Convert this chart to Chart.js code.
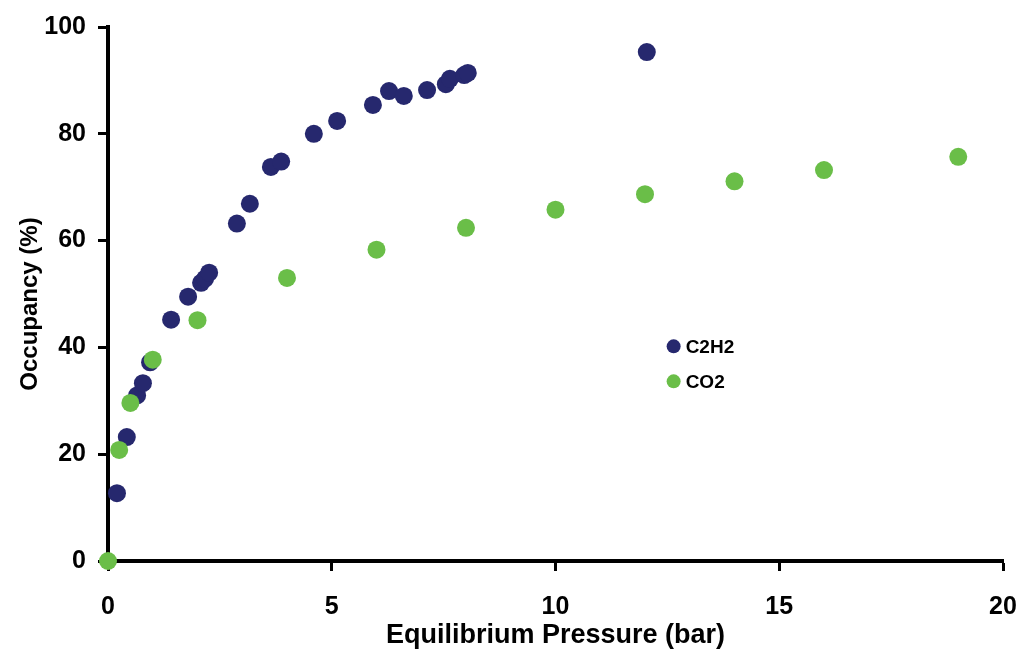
<!DOCTYPE html>
<html>
<head>
<meta charset="utf-8">
<script src="https://cdn.jsdelivr.net/npm/chart.js@4"></script>
<style>
  html, body { margin: 0; padding: 0; background: #fff; }
  #wrap { width: 1021px; height: 652px; position: relative; }
</style>
</head>
<body>
<div id="wrap"><canvas id="chart"></canvas></div>
<script>
// pressure (bar) / occupancy (%)
var c2h2Pressure = [0.2, 0.42, 0.65, 0.78, 0.94, 1.41, 1.79, 2.08, 2.17, 2.26, 2.88, 3.17, 3.64, 3.87, 4.6, 5.12, 5.92, 6.28, 6.61, 7.13, 7.55, 7.64, 7.96, 8.04, 12.04];
var c2h2Occupancy = [12.7, 23.2, 31.0, 33.3, 37.2, 45.2, 49.5, 52.1, 52.9, 54.0, 63.2, 66.9, 73.8, 74.8, 80.0, 82.4, 85.4, 88.0, 87.1, 88.2, 89.3, 90.3, 91.0, 91.4, 95.3];
var co2Pressure = [0, 0.25, 0.5, 1, 2, 4, 6, 8, 10, 12, 14, 16, 19];
var co2Occupancy = [0, 20.8, 29.6, 37.7, 45.1, 53.0, 58.3, 62.4, 65.8, 68.7, 71.1, 73.2, 75.7];
var xTicks = [0, 5, 10, 15, 20];
var yTicks = [0, 20, 40, 60, 80, 100];

var navy = 'rgb(38, 40, 110)';
var green = 'rgb(106, 190, 72)';

function toPoints(xs, ys) {
  var out = [];
  for (var i = 0; i < xs.length; i++) out.push({x: xs[i], y: ys[i]});
  return out;
}

// legend drawn inside the plot like the original
var innerLegend = {
  id: 'innerLegend',
  afterDraw: function(chart) {
    var ctx = chart.ctx;
    var x = chart.scales.x.getPixelForValue(12.64);
    var y0 = chart.scales.y.getPixelForValue(40.2);
    ctx.save();
    ctx.font = 'bold 19px "Liberation Sans", Arial, sans-serif';
    ctx.textBaseline = 'middle';
    chart.data.datasets.forEach(function(ds, i) {
      var y = y0 + i * 35;
      ctx.fillStyle = ds.backgroundColor;
      ctx.beginPath();
      ctx.arc(x, y, 7, 0, Math.PI * 2);
      ctx.fill();
      ctx.fillStyle = '#000';
      ctx.fillText(ds.label, x + 12, y + 1);
    });
    ctx.restore();
  }
};

var tickFont = {family: '"Liberation Sans", Arial, sans-serif', size: 25, weight: 'bold'};

new Chart(document.getElementById('chart'), {
  type: 'scatter',
  data: {
    datasets: [{
      label: 'C2H2',
      data: toPoints(c2h2Pressure, c2h2Occupancy),
      backgroundColor: navy,
      borderWidth: 0,
      pointRadius: 9,
      pointHoverRadius: 9,
      clip: false,
      order: 2
    }, {
      label: 'CO2',
      data: toPoints(co2Pressure, co2Occupancy),
      backgroundColor: green,
      borderWidth: 0,
      pointRadius: 9,
      pointHoverRadius: 9,
      clip: false,
      order: 1
    }]
  },
  options: {
    responsive: true,
    maintainAspectRatio: false,
    animation: false,
    layout: {padding: {top: 27, right: 18, left: 0, bottom: 0}},
    plugins: {
      legend: {display: false},
      tooltip: {enabled: false}
    },
    scales: {
      x: {
        type: 'linear',
        min: 0, max: 20,
        afterBuildTicks: function(s) { s.ticks = xTicks.map(function(v) { return {value: v}; }); },
        afterFit: function(s) { s.height = 91; s.paddingLeft = 0; s.paddingRight = 0; },
        border: {display: true, color: '#000', width: 4},
        grid: {drawOnChartArea: false, drawTicks: true, tickLength: 10, tickWidth: 3, tickColor: '#000'},
        ticks: {color: '#000', font: tickFont, padding: 21, maxRotation: 0},
        title: {
          display: true,
          text: 'Equilibrium Pressure (bar)',
          color: '#000',
          font: {family: '"Liberation Sans", Arial, sans-serif', size: 27, weight: 'bold'},
          padding: {top: 0, bottom: 0}
        }
      },
      y: {
        min: 0, max: 100,
        afterBuildTicks: function(s) { s.ticks = yTicks.map(function(v) { return {value: v}; }); },
        afterFit: function(s) { s.width = 108; s.paddingTop = 0; s.paddingBottom = 0; },
        border: {display: true, color: '#000', width: 4},
        grid: {drawOnChartArea: false, drawTicks: true, tickLength: 10, tickWidth: 3, tickColor: '#000'},
        ticks: {color: '#000', font: tickFont, padding: 12},
        title: {
          display: true,
          text: 'Occupancy (%)   ',
          color: '#000',
          font: {family: '"Liberation Sans", Arial, sans-serif', size: 24, weight: 'bold'},
          padding: {top: 16, bottom: 0}
        }
      }
    }
  },
  plugins: [innerLegend]
});
</script>
</body>
</html>
